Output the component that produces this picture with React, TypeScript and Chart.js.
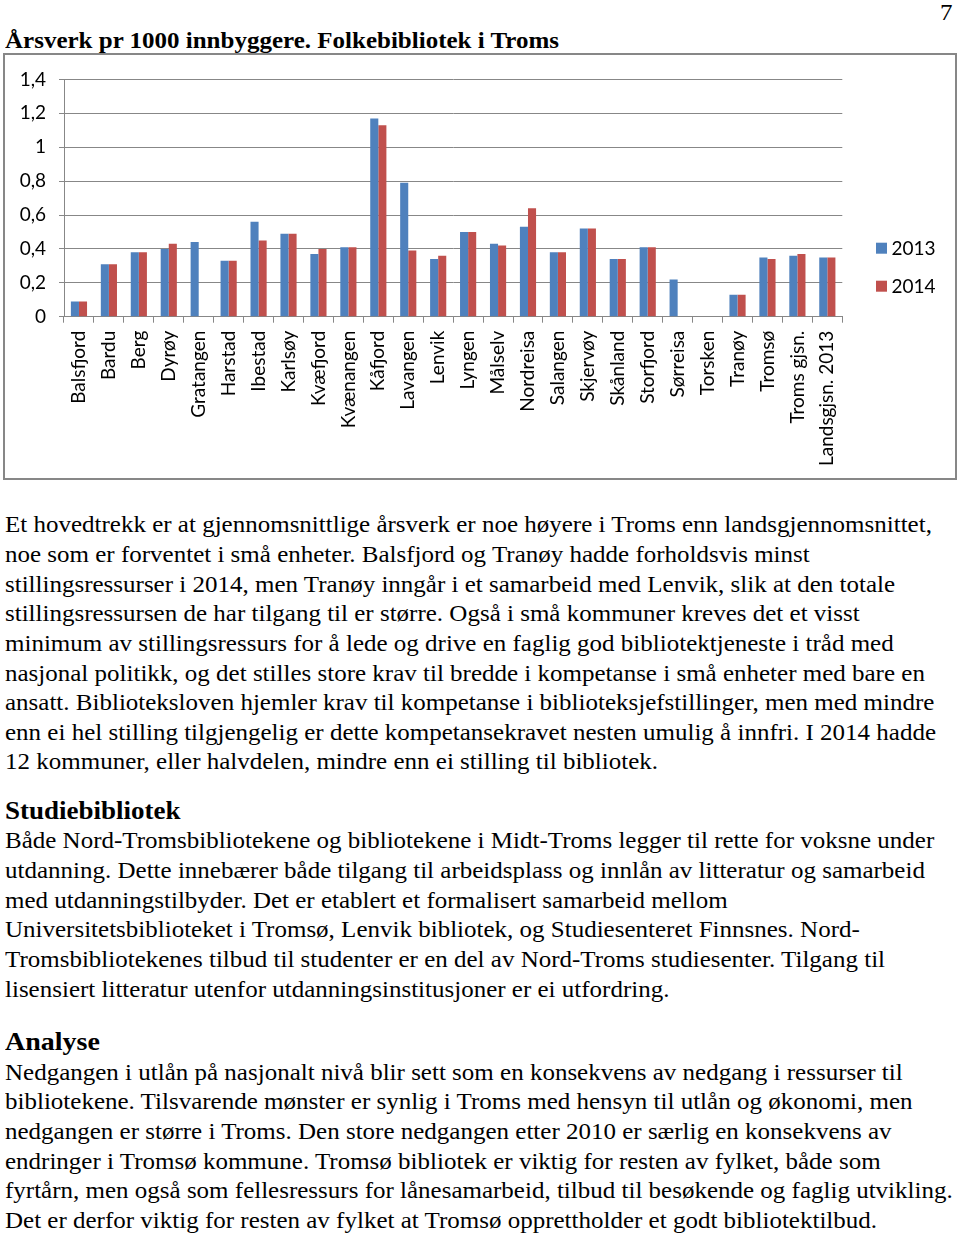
import React, { useEffect, useRef } from "react";
import { Chart, registerables } from "chart.js";

Chart.register(...registerables);

const categories = [
  "Balsfjord", "Bardu", "Berg", "Dyrøy", "Gratangen", "Harstad", "Ibestad", "Karlsøy",
  "Kvæfjord", "Kvænangen", "Kåfjord", "Lavangen", "Lenvik", "Lyngen", "Målselv", "Nordreisa",
  "Salangen", "Skjervøy", "Skånland", "Storfjord", "Sørreisa", "Torsken", "Tranøy", "Tromsø",
  "Troms gjsn.", "Landsgjsn. 2013",
];
const values2013 = [
  0.09, 0.31, 0.38, 0.4, 0.44, 0.33, 0.56, 0.49, 0.37, 0.41, 1.17, 0.79, 0.34, 0.5, 0.43, 0.53,
  0.38, 0.52, 0.34, 0.41, 0.22, null, 0.13, 0.35, 0.36, 0.35,
];
const values2014 = [
  0.09, 0.31, 0.38, 0.43, null, 0.33, 0.45, 0.49, 0.4, 0.41, 1.13, 0.39, 0.36, 0.5, 0.42, 0.64,
  0.38, 0.52, 0.34, 0.41, null, null, 0.13, 0.34, 0.37, 0.35,
];
const seriesLabels = ["2013", "2014"];
const seriesColors = ["#4F81BD", "#C0504D"];
const yMin = 0;
const yMax = 1.4;
const yStep = 0.2;

const pageNumber = "7";
const chartTitle = "Årsverk pr 1000 innbyggere. Folkebibliotek i Troms";
const para1 = [
  "Et hovedtrekk er at gjennomsnittlige årsverk er noe høyere i Troms enn landsgjennomsnittet,",
  "noe som er forventet i små enheter. Balsfjord og Tranøy hadde forholdsvis minst",
  "stillingsressurser i 2014, men Tranøy inngår i et samarbeid med Lenvik, slik at den totale",
  "stillingsressursen de har tilgang til er større. Også i små kommuner kreves det et visst",
  "minimum av stillingsressurs for å lede og drive en faglig god bibliotektjeneste i tråd med",
  "nasjonal politikk, og det stilles store krav til bredde i kompetanse i små enheter med bare en",
  "ansatt. Biblioteksloven hjemler krav til kompetanse i biblioteksjefstillinger, men med mindre",
  "enn ei hel stilling tilgjengelig er dette kompetansekravet nesten umulig å innfri. I 2014 hadde",
  "12 kommuner, eller halvdelen, mindre enn ei stilling til bibliotek.",
];
const heading2 = "Studiebibliotek";
const para2 = [
  "Både Nord-Tromsbibliotekene og bibliotekene i Midt-Troms legger til rette for voksne under",
  "utdanning. Dette innebærer både tilgang til arbeidsplass og innlån av litteratur og samarbeid",
  "med utdanningstilbyder. Det er etablert et formalisert samarbeid mellom",
  "Universitetsbiblioteket i Tromsø, Lenvik bibliotek, og Studiesenteret Finnsnes. Nord-",
  "Tromsbibliotekenes tilbud til studenter er en del av Nord-Troms studiesenter. Tilgang til",
  "lisensiert litteratur utenfor utdanningsinstitusjoner er ei utfordring.",
];
const heading3 = "Analyse";
const para3 = [
  "Nedgangen i utlån på nasjonalt nivå blir sett som en konsekvens av nedgang i ressurser til",
  "bibliotekene. Tilsvarende mønster er synlig i Troms med hensyn til utlån og økonomi, men",
  "nedgangen er større i Troms. Den store nedgangen etter 2010 er særlig en konsekvens av",
  "endringer i Tromsø kommune. Tromsø bibliotek er viktig for resten av fylket, både som",
  "fyrtårn, men også som fellesressurs for lånesamarbeid, tilbud til besøkende og faglig utvikling.",
  "Det er derfor viktig for resten av fylket at Tromsø opprettholder et godt bibliotektilbud.",
];

const CHART_FONT = "Lato, 'Open Sans', sans-serif";
const SERIF = "'Liberation Serif', 'Times New Roman', serif";

const sideLegend = {
  id: "sideLegend",
  afterDraw(chart: any) {
    const ctx = chart.ctx;
    ctx.save();
    chart.data.datasets.forEach((ds: any, i: number) => {
      const y = 187.7 + i * 38;
      ctx.fillStyle = ds.backgroundColor;
      ctx.fillRect(871, y, 11, 11);
      ctx.fillStyle = "#000";
      ctx.font = `19px ${CHART_FONT}`;
      ctx.textBaseline = "middle";
      ctx.textAlign = "left";
      ctx.fillText(ds.label, 886.5, y + 6);
    });
    ctx.restore();
  },
};

function BarChart() {
  const ref = useRef<HTMLCanvasElement | null>(null);
  useEffect(() => {
    if (!ref.current) return;
    const gridColor = "#878787";
    const chart = new Chart(ref.current, {
      type: "bar",
      data: {
        labels: categories,
        datasets: [
          {
            label: seriesLabels[0],
            data: values2013,
            backgroundColor: seriesColors[0],
            categoryPercentage: 0.54,
            barPercentage: 1,
          },
          {
            label: seriesLabels[1],
            data: values2014,
            backgroundColor: seriesColors[1],
            categoryPercentage: 0.54,
            barPercentage: 1,
          },
        ],
      },
      options: {
        responsive: false,
        animation: false,
        devicePixelRatio: 1,
        layout: { padding: { left: 0, top: 22.7, right: 112.7, bottom: 0 } },
        plugins: {
          legend: { display: false },
          tooltip: { enabled: false },
          title: { display: false },
        },
        scales: {
          x: {
            grid: {
              display: true,
              drawOnChartArea: false,
              drawTicks: true,
              tickLength: 6,
              color: gridColor,
              offset: true,
            },
            border: { display: true, color: gridColor },
            ticks: {
              autoSkip: false,
              maxRotation: 90,
              minRotation: 90,
              padding: 8,
              color: "#000",
              font: { family: CHART_FONT, size: 19 },
            },
            afterFit: (s: any) => {
              s.height = 161.3;
            },
          },
          y: {
            min: yMin,
            max: yMax,
            ticks: {
              stepSize: yStep,
              padding: 13,
              color: "#000",
              font: { family: CHART_FONT, size: 19 },
              callback: (v: any) => String(Math.round(Number(v) * 10) / 10).replace(".", ","),
            },
            grid: { color: gridColor, tickLength: 5, drawTicks: true },
            border: { display: true, color: gridColor },
            afterFit: (s: any) => {
              s.width = 59;
            },
          },
        },
      },
      plugins: [sideLegend],
    } as any);
    return () => chart.destroy();
  }, []);
  return <canvas ref={ref} width={950} height={423} style={{ display: "block" }} />;
}

function TextLine({ text, baseline, size = 25, bold = false, left = 5, sy = 0.92 }: any) {
  const base = 0.8375 * size;
  return (
    <div
      style={{
        position: "absolute",
        left,
        top: baseline - base,
        fontFamily: SERIF,
        fontSize: size,
        lineHeight: `${size}px`,
        fontWeight: bold ? 700 : 400,
        whiteSpace: "nowrap",
        color: "#000",
        transform: `scaleY(${sy})`,
        transformOrigin: `0 ${base}px`,
      }}
    >
      {text}
    </div>
  );
}

export default function App() {
  const pitch = 29.65;
  return (
    <div
      style={{
        position: "absolute",
        left: 0,
        top: 0,
        width: 960,
        height: 1237,
        background: "#fff",
        overflow: "hidden",
      }}
    >
      <TextLine text={pageNumber} baseline={20} left={940} />
      <TextLine text={chartTitle} baseline={47.5} bold />
      <div
        style={{
          position: "absolute",
          left: 3,
          top: 53,
          width: 954,
          height: 427,
          border: "2px solid #878787",
          boxSizing: "border-box",
        }}
      >
        <BarChart />
      </div>
      {para1.map((t, i) => (
        <TextLine key={"a" + i} text={t} baseline={532.2 + i * pitch} />
      ))}
      <TextLine text={heading2} baseline={820} size={27} bold />
      {para2.map((t, i) => (
        <TextLine key={"b" + i} text={t} baseline={848.3 + i * 29.7} />
      ))}
      <TextLine text={heading3} baseline={1050} size={28} bold />
      {para3.map((t, i) => (
        <TextLine key={"c" + i} text={t} baseline={1079.5 + i * pitch} />
      ))}
    </div>
  );
}
